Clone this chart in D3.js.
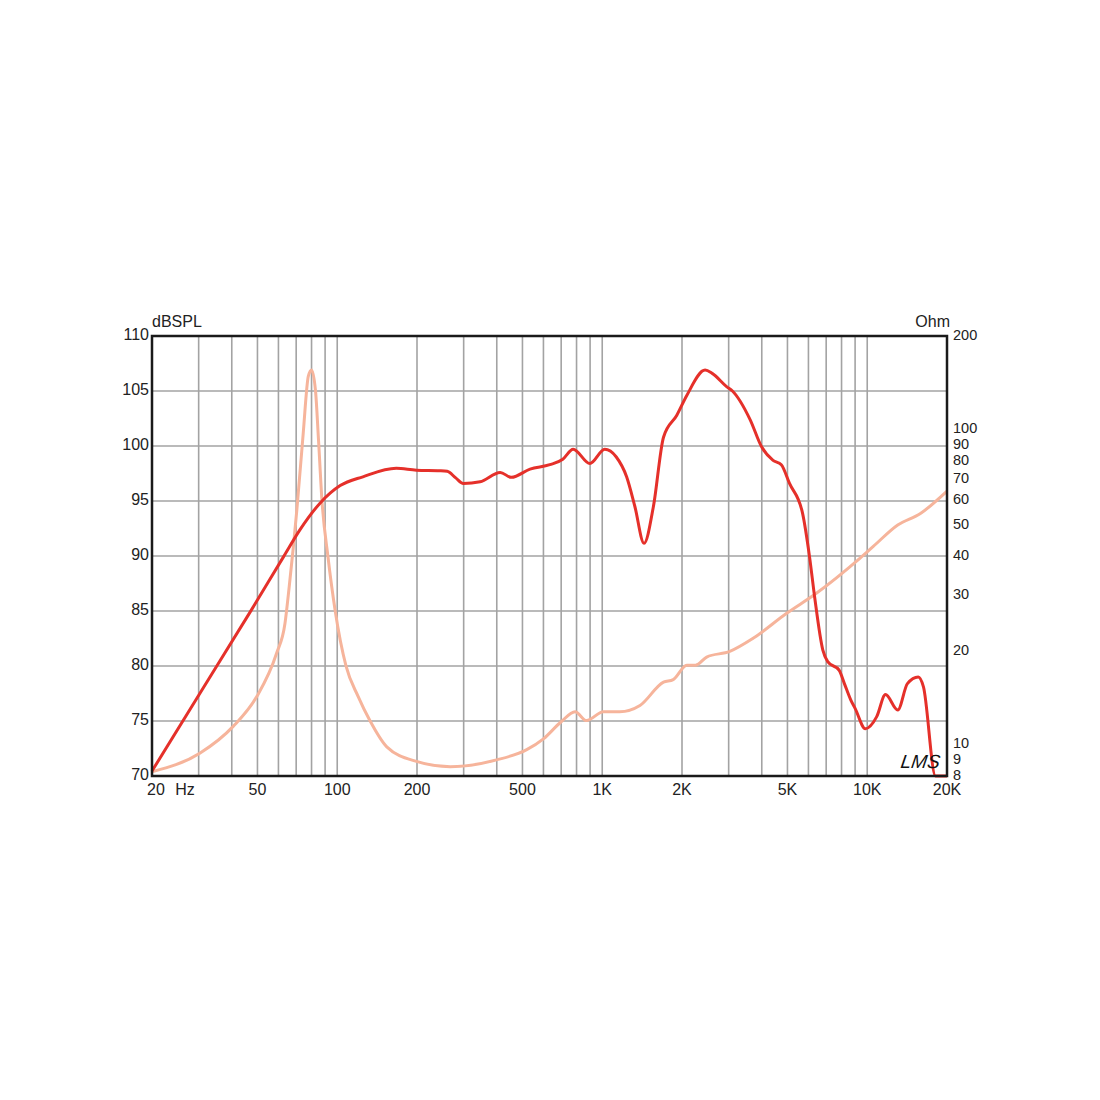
<!DOCTYPE html>
<html>
<head>
<meta charset="utf-8">
<script src="https://cdn.jsdelivr.net/npm/d3@7"></script>
<style>
  body { margin: 0; background: #fff; }
  text { font-family: "Liberation Sans", Arial, sans-serif; fill: #222; }
</style>
</head>
<body>
<svg id="chart"></svg>
<script>
// SPL response (Hz, dB)
const splFreq = [20, 30.3, 46.9, 62.6, 72.4, 86.1, 102.6, 125, 167, 199, 244, 260, 280, 299, 346, 412, 454, 534, 634, 710, 777, 898, 1022, 1130, 1236, 1328, 1438, 1560, 1703, 1912, 2085, 2445, 2600, 2946, 3100, 3614, 3998, 4412, 4740, 5090, 5700, 6060, 6330, 6800, 7094, 7840, 8200, 8672, 9000, 9840, 10860, 11720, 13034, 14180, 15580, 16300, 18100, 20000];
const splDb = [70.45, 77.5, 84.9, 89.9, 92.4, 94.8, 96.4, 97.2, 97.97, 97.8, 97.75, 97.7, 97.1, 96.6, 96.75, 97.6, 97.15, 97.9, 98.3, 98.8, 99.7, 98.4, 99.7, 99.0, 97.2, 94.5, 91.15, 94.5, 100.8, 102.8, 104.6, 106.9, 106.6, 105.4, 105.0, 102.4, 99.9, 98.7, 98.3, 96.6, 93.9, 89.9, 86.3, 81.45, 80.4, 79.6, 78.4, 76.9, 76.15, 74.3, 75.4, 77.4, 76.0, 78.4, 79.0, 78.1, 70, 70];

// impedance (Hz, Ohm)
const zFreq = [20, 30.3, 40.5, 49.7, 59, 63.5, 65.9, 70.4, 74.4, 77.8, 80, 82.8, 85, 87.6, 92.2, 98.3, 107.9, 120, 132.8, 153.8, 199, 267, 399, 519, 600, 700, 790, 872, 1010, 1164, 1388, 1703, 1853, 2085, 2250, 2478, 3030, 3710, 4964, 6408, 9400, 10540, 13034, 15880, 20000];
const zOhm = [8.25, 9.45, 11.5, 14.3, 19.6, 24.4, 32, 56, 98, 149, 156, 134, 93.4, 59.8, 40, 26.7, 17.9, 14.3, 12.0, 9.9, 8.9, 8.56, 9.0, 9.7, 10.5, 11.9, 12.8, 12.0, 12.8, 12.8, 13.4, 15.9, 16.2, 18.0, 18.0, 19.1, 19.9, 21.9, 26.3, 30.4, 39.4, 42.9, 50.2, 54.6, 64.3];

const gridFreqs = [30, 40, 50, 60, 70, 80, 90, 100, 200, 300, 400, 500, 600, 700, 800, 900, 1000, 2000, 3000, 4000, 5000, 6000, 7000, 8000, 9000, 10000];
const freqLabels = [[50, "50"], [100, "100"], [200, "200"], [500, "500"], [1000, "1K"], [2000, "2K"], [5000, "5K"], [10000, "10K"], [20000, "20K"]];
const dbTicks = [70, 75, 80, 85, 90, 95, 100, 105, 110];
const ohmTicks = [8, 9, 10, 20, 30, 40, 50, 60, 70, 80, 90, 100, 200];

const W = 1100, H = 1100;
const mLeft = 152, mRight = 947, mTop = 336, mBottom = 776;

const svg = d3.select("#chart").attr("width", W).attr("height", H);

const x = d3.scaleLog().domain([20, 20000]).range([mLeft, mRight]);
const yDb = d3.scaleLinear().domain([70, 110]).range([mBottom, mTop]);
const yOhm = d3.scaleLog().domain([8, 200]).range([mBottom, mTop]);

// grid
const grid = svg.append("g").attr("stroke", "#a3a3a3").attr("stroke-width", 1.6);
grid.selectAll(".vg").data(gridFreqs).join("line")
  .attr("x1", d => x(d)).attr("x2", d => x(d))
  .attr("y1", mTop).attr("y2", mBottom);
grid.selectAll(".hg").data(dbTicks.slice(1, -1)).join("line")
  .attr("x1", mLeft).attr("x2", mRight)
  .attr("y1", d => yDb(d)).attr("y2", d => yDb(d));

// curves
const line = d3.line().curve(d3.curveMonotoneX);
svg.append("path")
  .attr("d", line(zFreq.map((f, i) => [x(f), yOhm(zOhm[i])])))
  .attr("fill", "none").attr("stroke", "#f6b49b").attr("stroke-width", 3)
  .attr("stroke-linejoin", "round");
svg.append("path")
  .attr("d", line(splFreq.map((f, i) => [x(f), yDb(splDb[i])])))
  .attr("fill", "none").attr("stroke", "#e5302a").attr("stroke-width", 3)
  .attr("stroke-linejoin", "round");

// frame
svg.append("rect")
  .attr("x", mLeft).attr("y", mTop)
  .attr("width", mRight - mLeft).attr("height", mBottom - mTop)
  .attr("fill", "none").attr("stroke", "#1a1a1a").attr("stroke-width", 2.5);

// left axis labels
svg.append("g").selectAll("text").data(dbTicks).join("text")
  .attr("x", mLeft - 3).attr("y", d => yDb(d))
  .attr("text-anchor", "end").attr("dominant-baseline", "middle")
  .attr("font-size", 16).text(d => d);

// right axis labels (labels that sit tight get nudged a touch apart)
const nudge = { 100: -1.5, 90: 0.5, 10: -1.5, 9: 0.5 };
svg.append("g").selectAll("text").data(ohmTicks).join("text")
  .attr("x", mRight + 6).attr("y", d => yOhm(d) + (nudge[d] || 0))
  .attr("text-anchor", "start").attr("dominant-baseline", "middle")
  .attr("font-size", 14.5).text(d => d);

// bottom labels
svg.append("g").selectAll("text").data(freqLabels).join("text")
  .attr("x", d => x(d[0])).attr("y", mBottom + 15)
  .attr("text-anchor", "middle").attr("dominant-baseline", "middle")
  .attr("font-size", 16).text(d => d[1]);
svg.append("text").attr("x", x(20) + 4).attr("y", mBottom + 15)
  .attr("text-anchor", "middle").attr("dominant-baseline", "middle")
  .attr("font-size", 16).text("20");
svg.append("text").attr("x", x(20) + 33).attr("y", mBottom + 15)
  .attr("text-anchor", "middle").attr("dominant-baseline", "middle")
  .attr("font-size", 16).text("Hz");

// unit titles
svg.append("text").attr("x", mLeft).attr("y", 323)
  .attr("dominant-baseline", "middle").attr("font-size", 16).text("dBSPL");
svg.append("text").attr("x", mRight + 3).attr("y", 323)
  .attr("text-anchor", "end").attr("dominant-baseline", "middle")
  .attr("font-size", 16).text("Ohm");

// LMS mark
svg.append("text").attr("x", 900).attr("y", 768)
  .attr("font-size", 19).attr("font-style", "italic")
  .attr("font-family", "DejaVu Serif, serif")
  .attr("transform", "skewX(-8) translate(108,0)")
  .style("fill", "#111").text("LMS");
</script>
</body>
</html>
